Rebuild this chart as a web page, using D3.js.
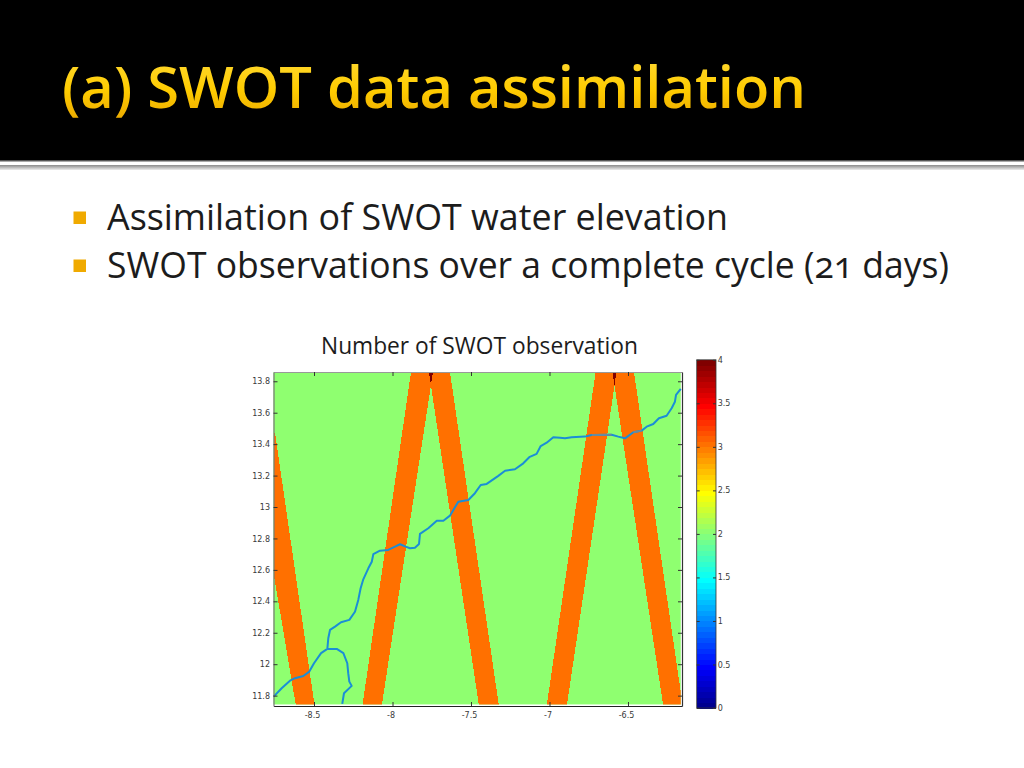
<!DOCTYPE html>
<html><head><meta charset="utf-8">
<script src="https://cdnjs.cloudflare.com/ajax/libs/d3/7.8.5/d3.min.js"></script>
<style>
html,body{margin:0;padding:0;background:#fff}
svg{display:block}
.tick text{font-family:"DejaVu Sans",sans-serif;font-size:8px;fill:#3a3a3a}
.slide{font-family:"Open Sans";font-variant-ligatures:none;font-feature-settings:"onum" 1,"liga" 0}
</style></head><body>
<script>
const titleText = "(a) SWOT data assimilation";
const bullets = ["Assimilation of SWOT water elevation", "SWOT observations over a complete cycle (21 days)"];
const chartTitle = "Number of SWOT observation";

const lonTicks = [-8.5, -8, -7.5, -7, -6.5];
const latTicks = [11.8, 12, 12.2, 12.4, 12.6, 12.8, 13, 13.2, 13.4, 13.6, 13.8];
const barTicks = [0, 0.5, 1, 1.5, 2, 2.5, 3, 3.5, 4];
const lonExtent = [-8.758, -6.156];
const latExtent = [11.734, 13.859];
const fieldLon = [-8.758, -6.164];
const fieldLat = [11.744, 13.859];
const baseCount = 2;
const swathCount = 3;
const overlapCount = 4;

const swathA = [[-8.758,13.471],[-8.748,13.471],[-8.496,11.734],[-8.615,11.734],[-8.758,12.581]];
const swathB = [[-8.192,11.734],[-8.069,11.734],[-7.742,13.859],[-7.882,13.859]];
const swathC = [[-7.768,13.859],[-7.634,13.859],[-7.322,11.734],[-7.449,11.734]];
const swathD = [[-7.018,11.734],[-6.890,11.734],[-6.573,13.859],[-6.706,13.859]];
const swathE = [[-6.599,13.859],[-6.462,13.859],[-6.164,11.824],[-6.164,11.734],[-6.275,11.734]];
const overlapWest = [[-7.768,13.859],[-7.742,13.859],[-7.755,13.777]];
const overlapEast = [[-6.599,13.859],[-6.573,13.859],[-6.586,13.777]];

const riverMain = [[-8.757,11.794],[-8.706,11.847],[-8.653,11.895],[-8.621,11.911],[-8.568,11.925],[-8.530,11.953],[-8.500,12.006],[-8.455,12.070],[-8.415,12.097],[-8.409,12.165],[-8.398,12.218],[-8.366,12.239],[-8.328,12.267],[-8.275,12.282],[-8.239,12.334],[-8.218,12.409],[-8.203,12.483],[-8.186,12.540],[-8.154,12.610],[-8.132,12.652],[-8.122,12.700],[-8.080,12.722],[-8.027,12.727],[-7.984,12.748],[-7.952,12.763],[-7.916,12.748],[-7.889,12.738],[-7.857,12.741],[-7.831,12.765],[-7.825,12.829],[-7.772,12.865],[-7.718,12.913],[-7.676,12.913],[-7.634,12.945],[-7.581,13.034],[-7.517,13.045],[-7.475,13.088],[-7.438,13.140],[-7.400,13.147],[-7.326,13.198],[-7.283,13.231],[-7.220,13.240],[-7.167,13.278],[-7.129,13.317],[-7.082,13.338],[-7.056,13.388],[-7.018,13.409],[-6.976,13.444],[-6.933,13.441],[-6.901,13.437],[-6.859,13.444],[-6.774,13.448],[-6.731,13.458],[-6.604,13.460],[-6.562,13.448],[-6.519,13.437],[-6.466,13.476],[-6.413,13.486],[-6.381,13.511],[-6.339,13.528],[-6.303,13.565],[-6.254,13.581],[-6.222,13.628],[-6.201,13.670],[-6.194,13.713],[-6.164,13.751]];
const riverBranch = [[-8.415,12.097],[-8.355,12.097],[-8.313,12.070],[-8.288,12.006],[-8.282,11.943],[-8.275,11.889],[-8.260,11.862],[-8.309,11.815],[-8.320,11.747]];
const riverOverSwathD = [[-6.731,13.458],[-6.604,13.460]];
const riverOverSwathE = [[-6.466,13.476],[-6.413,13.486]];

const W = 1024, H = 768;
const svg = d3.select("body").append("svg").attr("width", W).attr("height", H)
  .attr("viewBox", `0 0 ${W} ${H}`);
const defs = svg.append("defs");

const tg = defs.append("linearGradient").attr("id","gold").attr("x1",0).attr("x2",0).attr("y1",0).attr("y2",1);
tg.append("stop").attr("offset","0%").attr("stop-color","#ffdc40");
tg.append("stop").attr("offset","55%").attr("stop-color","#ffcc00");
tg.append("stop").attr("offset","100%").attr("stop-color","#e8a400");

// Slide chrome
svg.append("rect").attr("width",W).attr("height",160).attr("fill","#000");
svg.append("rect").attr("y",160).attr("width",W).attr("height",1.5).attr("fill","#555");
const sg = defs.append("linearGradient").attr("id","rule").attr("x1",0).attr("x2",0).attr("y1",0).attr("y2",1);
sg.append("stop").attr("offset","0%").attr("stop-color","#8a8a8a");
sg.append("stop").attr("offset","100%").attr("stop-color","#ededed");
svg.append("rect").attr("y",165).attr("width",W).attr("height",5).attr("fill","url(#rule)");

svg.append("text").attr("class","slide").text(titleText)
  .attr("x",62).attr("y",108)
  .attr("textLength",744).attr("lengthAdjust","spacingAndGlyphs")
  .attr("font-weight",600).attr("font-size",57)
  .attr("fill","url(#gold)");

const bulletRows = svg.selectAll("g.bullet").data(bullets).join("g").attr("class","bullet");
bulletRows.append("rect").attr("x",73.5).attr("y",(d,i)=>211.5+i*48).attr("width",12.5).attr("height",12.5).attr("fill","#f0aa00");
bulletRows.append("text").attr("class","slide").text(d=>d)
  .attr("x",107).attr("y",(d,i)=>229.5+i*48)
  .attr("textLength",(d,i)=>i===0?621:842).attr("lengthAdjust","spacingAndGlyphs")
  .attr("font-size",36).attr("fill","#1c1c1c");

svg.append("text").attr("class","slide").text(chartTitle)
  .attr("x",321).attr("y",354).attr("textLength",317).attr("lengthAdjust","spacingAndGlyphs")
  .attr("font-size",23).attr("fill","#1c1c1c");

// MATLAB-style 64-level jet colour map
const rr = d3.scaleLinear().domain([24,40,56,64]).range([0,1,1,0.5]).clamp(true);
const gg = d3.scaleLinear().domain([8,24,40,56]).range([0,1,1,0]).clamp(true);
const bb = d3.scaleLinear().domain([1,8,24,40]).range([0.5625,1,1,0]).clamp(true);
const jetIndex = v => Math.min(64, Math.floor(v*16)+1);
const jet = v => { const i = jetIndex(v); return d3.rgb(rr(i)*255, gg(i)*255, bb(i)*255).formatHex(); };

const x = d3.scaleLinear().domain(lonExtent).range([273.5,682]);
const y = d3.scaleLinear().domain(latExtent).range([706,372]);

defs.append("clipPath").attr("id","field").append("rect")
  .attr("x",x(fieldLon[0])).attr("y",y(fieldLat[1]))
  .attr("width",x(fieldLon[1])-x(fieldLon[0])).attr("height",y(fieldLat[0])-y(fieldLat[1]));

const plot = svg.append("g");
plot.append("rect")
  .attr("x",x(fieldLon[0])).attr("y",y(fieldLat[1]))
  .attr("width",x(fieldLon[1])-x(fieldLon[0])).attr("height",y(fieldLat[0])-y(fieldLat[1]))
  .attr("fill",jet(baseCount));

const toPts = p => p.map(d=>[x(d[0]),y(d[1])].join(",")).join(" ");
const fieldG = plot.append("g").attr("clip-path","url(#field)").attr("shape-rendering","crispEdges");
fieldG.selectAll("polygon.swath").data([swathA,swathB,swathC,swathD,swathE]).join("polygon")
  .attr("class","swath").attr("points",toPts).attr("fill",jet(swathCount));
fieldG.selectAll("polygon.overlap").data([overlapWest,overlapEast]).join("polygon")
  .attr("class","overlap").attr("points",toPts).attr("fill",jet(overlapCount));

const line = d3.line().x(d=>x(d[0])).y(d=>y(d[1]));
plot.selectAll("path.river").data([riverMain,riverBranch]).join("path")
  .attr("class","river").attr("d",line).attr("fill","none")
  .attr("stroke","#1b8ed6").attr("stroke-width",2).attr("stroke-linejoin","round");
plot.selectAll("path.riverOver").data([riverOverSwathD,riverOverSwathE]).join("path")
  .attr("class","riverOver").attr("d",line).attr("fill","none")
  .attr("stroke","#6a8c9c").attr("stroke-width",2);

// Axes
function styleAxis(g, color){
  g.select(".domain").attr("stroke",color).attr("stroke-width",1.2);
  g.selectAll(".tick line").attr("stroke","#333").attr("stroke-width",1);
  g.attr("font-family",null).attr("font-size",null);
}
const label = d => String(d);
svg.append("g").attr("transform",`translate(0,${y(latExtent[0])})`)
  .call(d3.axisBottom(x).tickValues(lonTicks).tickFormat(label).tickSizeInner(-4).tickSizeOuter(0).tickPadding(6.3))
  .call(styleAxis,"#222").selectAll("text").attr("dx",-2);
svg.append("g").attr("transform",`translate(0,${y(latExtent[1])})`)
  .call(d3.axisTop(x).tickValues(lonTicks).tickFormat("").tickSizeInner(-4).tickSizeOuter(0))
  .call(styleAxis,"#999");
svg.append("g").attr("transform",`translate(${x(lonExtent[0])},0)`)
  .call(d3.axisLeft(y).tickValues(latTicks).tickFormat(label).tickSizeInner(-4).tickSizeOuter(0).tickPadding(3.5))
  .call(styleAxis,"#777");
svg.append("g").attr("transform",`translate(${x(lonExtent[1])},0)`)
  .call(d3.axisRight(y).tickValues(latTicks).tickFormat("").tickSizeInner(-4).tickSizeOuter(0))
  .call(styleAxis,"#333");

// Colour bar
const c = d3.scaleLinear().domain([0,4]).range([708,359.8]);
const levels = d3.range(0,64).map(i=>i/16);
const barX0 = 696.7, barX1 = 716;
svg.append("g").attr("shape-rendering","crispEdges").selectAll("rect").data(levels).join("rect")
  .attr("x",barX0).attr("width",barX1-barX0)
  .attr("y",d=>c(d+1/16)).attr("height",d=>c(d)-c(d+1/16)+0.5)
  .attr("fill",jet);
svg.append("rect").attr("x",barX0).attr("width",barX1-barX0)
  .attr("y",c(4)).attr("height",c(0)-c(4))
  .attr("fill","none").attr("stroke","#333").attr("stroke-width",0.8);
svg.append("g").attr("transform",`translate(${barX1},0)`)
  .call(d3.axisRight(c).tickValues(barTicks).tickFormat(label).tickSizeInner(-3).tickSizeOuter(0).tickPadding(1.7))
  .call(styleAxis,"none");
svg.append("g").attr("transform",`translate(${barX0},0)`)
  .call(d3.axisLeft(c).tickValues(barTicks).tickFormat("").tickSizeInner(-3).tickSizeOuter(0))
  .call(styleAxis,"none");
</script>
</body></html>
